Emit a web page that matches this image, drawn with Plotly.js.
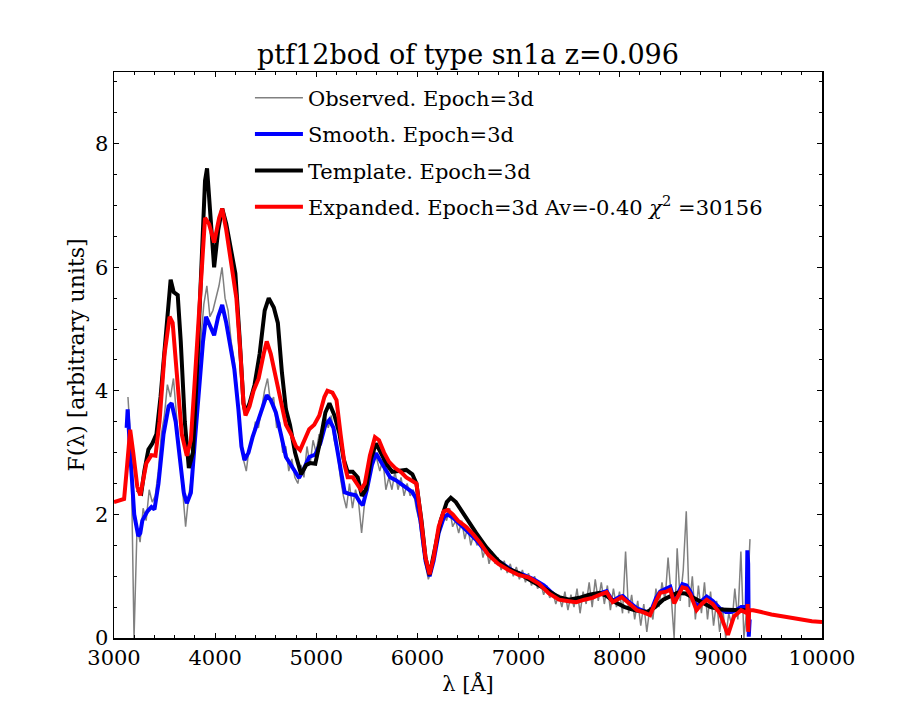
<!DOCTYPE html>
<html>
<head>
<meta charset="utf-8">
<script src="https://cdn.plot.ly/plotly-3.0.1.min.js"></script>
<style>
  body { margin: 0; background: #fff; }
  #chart { width: 913px; height: 711px; }
</style>
</head>
<body>
<div id="chart"></div>
<script>
// observed spectrum, regular grid starting at 3138 A, step 30 A
var obsStart = 3138;
var obsStep = 30;
var obsFlux = [
  3.9, 3.1, 0.0, 1.8, 1.55, 2.1, 1.9, 2.4, 2.2, 2.3,
  2.7, 3.3, 3.6, 4.1, 3.9, 4.2, 3.6, 3.0, 2.3, 1.8,
  2.3, 2.6, 3.4, 4.3, 4.8, 5.4, 5.7, 5.2, 5.3, 5.5,
  5.7, 6.0, 5.5, 5.3, 4.8, 4.5, 4.0, 3.3, 2.9, 2.7,
  3.1, 3.2, 3.5, 3.4, 3.7, 4.0, 4.2, 3.8, 3.9, 3.4,
  3.5, 3.0, 3.1, 2.7, 2.9, 2.6, 2.5, 2.8, 2.6, 3.1,
  2.8, 3.2, 3.0, 3.3, 3.2, 3.6, 3.4, 3.6, 3.2, 3.0,
  2.6, 2.3, 2.1, 2.5, 2.1, 2.4, 2.2, 1.7, 2.2, 2.6,
  2.9, 3.1, 2.9, 2.7, 2.9, 2.4, 2.6, 2.4, 2.7, 2.4,
  2.6, 2.3, 2.5, 2.3, 2.4, 2.1, 1.9, 1.5, 1.2, 0.95,
  1.1, 1.4, 1.7, 1.9, 2.0, 1.9, 2.1, 1.8, 1.9, 1.7,
  1.9, 1.6, 1.8, 1.5, 1.7, 1.5, 1.6, 1.3, 1.5, 1.2,
  1.4, 1.2, 1.3, 1.1, 1.25, 1.05, 1.2, 1.0, 1.15, 0.95,
  1.1, 0.9, 1.05, 0.85, 1.0, 0.8, 0.9, 0.7, 0.85, 0.65,
  0.75, 0.55, 0.7, 0.5, 0.75, 0.45, 0.7, 0.5, 0.8, 0.4,
  0.75, 0.55, 0.9, 0.5, 0.95, 0.6, 0.9, 0.55, 0.85, 0.45,
  0.8, 0.5, 0.75, 0.4, 1.4, 0.4, 0.7, 0.3, 0.6, 0.2,
  0.55, 0.1, 0.5, 0.3, 0.8, 0.5, 0.9, 0.6, 1.3, 0.7,
  0.0, 1.45, 0.6, 1.1, 2.05, 0.5, 1.0, 0.3, 0.85, 0.4,
  0.9, 0.3, 0.75, 0.2, 0.6, 0.1, 0.5, 0.0, 0.4, 0.2,
  0.8, 0.3, 1.4, 0.0, 0.5, 1.6
];

var smoothWave = [3125, 3135, 3160, 3200, 3240, 3260, 3280, 3330, 3370, 3400, 3440, 3490, 3540, 3570, 3610, 3650, 3690, 3720, 3760, 3800,
  3840, 3880, 3910, 3950, 3990, 4030, 4070, 4110, 4150, 4190, 4230, 4260, 4290, 4330, 4370, 4420, 4470, 4510, 4550, 4600,
  4650, 4700, 4750, 4800, 4830, 4880, 4930, 4990, 5040, 5090, 5130, 5170, 5210, 5250, 5280, 5330, 5390, 5430, 5460, 5500,
  5550, 5590, 5640, 5690, 5730, 5790, 5850, 5890, 5950, 5990, 6030, 6080, 6120, 6160, 6210, 6260, 6300, 6350, 6420, 6500,
  6580, 6650, 6750, 6850, 6950, 7050, 7150, 7250, 7350, 7420, 7500, 7580, 7650, 7730, 7800, 7870, 7930, 7990, 8030, 8080,
  8170, 8230, 8300, 8360, 8400, 8460, 8500, 8540, 8580, 8620, 8660, 8700, 8760, 8810, 8860, 8920, 8990, 9050, 9100, 9150,
  9200, 9240, 9255, 9262, 9270, 9276, 9285];
var smoothFlux = [3.4, 3.7, 3.0, 2.0, 1.65, 1.7, 1.9, 2.05, 2.12, 2.08, 2.5, 3.3, 3.75, 3.8, 3.5, 2.9, 2.35, 2.18, 2.35, 3.2,
  4.1, 4.8, 5.2, 5.05, 4.9, 5.2, 5.39, 5.1, 4.7, 4.35, 3.7, 3.1, 2.88, 3.0, 3.25, 3.5, 3.75, 3.93, 3.85, 3.65,
  3.3, 2.93, 2.8, 2.65, 2.59, 2.75, 2.93, 2.97, 3.15, 3.45, 3.53, 3.4, 3.0, 2.6, 2.36, 2.33, 2.31, 2.2, 2.15, 2.4,
  2.8, 2.99, 2.85, 2.7, 2.6, 2.55, 2.48, 2.44, 2.36, 2.25, 1.9, 1.25, 1.0, 1.25, 1.7, 1.95, 2.0, 1.95, 1.85, 1.72,
  1.59, 1.45, 1.3, 1.18, 1.08, 1.02, 0.95, 0.85, 0.7, 0.63, 0.62, 0.6, 0.64, 0.68, 0.72, 0.76, 0.6, 0.66, 0.68, 0.6,
  0.48, 0.44, 0.4, 0.65, 0.75, 0.8, 0.83, 0.6, 0.75, 0.87, 0.85, 0.75, 0.5, 0.6, 0.67, 0.6, 0.48, 0.42, 0.42, 0.45,
  0.5, 0.5, 0.5, 1.42, 1.2, 0.02, 0.3];

var templateWave = [3230, 3270, 3300, 3340, 3380, 3420, 3460, 3510, 3560, 3590, 3630, 3660, 3700, 3740, 3780, 3820, 3860, 3900, 3920, 3950,
  3990, 4030, 4070, 4110, 4160, 4200, 4240, 4280, 4300, 4340, 4390, 4440, 4490, 4530, 4580, 4620, 4660, 4700, 4740, 4790,
  4850, 4900, 4940, 4990, 5040, 5090, 5130, 5180, 5230, 5270, 5310, 5360, 5410, 5450, 5490, 5540, 5590, 5640, 5700, 5750,
  5810, 5890, 5950, 5990, 6040, 6080, 6120, 6170, 6230, 6290, 6330, 6380, 6440, 6490, 6580, 6680, 6800, 6900, 7000, 7100,
  7200, 7300, 7400, 7500, 7600, 7700, 7800, 7870, 7950, 8050, 8150, 8270, 8350, 8430, 8500, 8570, 8650, 8720, 8800, 8900,
  9000, 9100, 9200, 9280];
var templateFlux = [2.4, 2.35, 2.7, 3.05, 3.15, 3.3, 3.9, 4.9, 5.8, 5.6, 5.55, 4.8, 3.5, 2.75, 3.0, 4.3, 6.0, 7.4, 7.6, 6.8,
  6.0, 6.6, 6.95, 6.7, 6.3, 5.9, 4.9, 3.8, 3.65, 3.8, 4.1, 4.6, 5.3, 5.5, 5.35, 5.1, 4.3, 3.7, 3.45, 3.0,
  2.65, 2.8, 2.83, 2.82, 3.2, 3.65, 3.8, 3.6, 3.3, 2.9, 2.69, 2.69, 2.6, 2.3, 2.4, 2.9, 3.15, 3.0, 2.8, 2.69,
  2.7, 2.72, 2.65, 2.5, 1.9, 1.3, 1.02, 1.4, 1.9, 2.2, 2.27, 2.2, 2.05, 1.9, 1.7, 1.47, 1.25, 1.12, 1.05, 0.95,
  0.85, 0.75, 0.66, 0.62, 0.65, 0.7, 0.73, 0.68, 0.58, 0.5, 0.45, 0.42, 0.5, 0.62, 0.68, 0.73, 0.72, 0.66, 0.58, 0.5,
  0.46, 0.45, 0.45, 0.45];

var expandedWave = [3000, 3050, 3100, 3130, 3160, 3190, 3230, 3260, 3290, 3320, 3370, 3410, 3450, 3500, 3550, 3580, 3620, 3670, 3720, 3760,
  3800, 3850, 3900, 3940, 3990, 4040, 4070, 4110, 4160, 4210, 4250, 4280, 4300, 4340, 4380, 4430, 4480, 4510, 4550, 4600,
  4650, 4700, 4750, 4800, 4840, 4880, 4930, 4980, 5030, 5080, 5110, 5160, 5200, 5240, 5280, 5310, 5360, 5400, 5440, 5480,
  5530, 5580, 5620, 5670, 5720, 5780, 5840, 5890, 5950, 5990, 6030, 6080, 6120, 6160, 6210, 6260, 6300, 6350, 6400, 6480,
  6550, 6620, 6700, 6800, 6900, 7000, 7100, 7200, 7300, 7400, 7480, 7570, 7650, 7730, 7800, 7870, 7930, 7980, 8020, 8080,
  8170, 8230, 8300, 8360, 8400, 8460, 8500, 8540, 8580, 8620, 8660, 8700, 8760, 8810, 8860, 8920, 8990, 9030, 9070, 9100,
  9130, 9200, 9260, 9265, 9270, 9280, 9320, 9400, 9500, 9650, 9800, 9900, 10000];
var expandedFlux = [2.2, 2.22, 2.25, 2.8, 3.37, 3.0, 2.45, 2.31, 2.6, 2.83, 2.96, 2.95, 3.5, 4.6, 5.2, 5.1, 4.3, 3.3, 2.95, 3.2,
  4.2, 5.6, 6.8, 6.7, 6.4, 6.8, 6.95, 6.6, 6.0, 5.5, 4.6, 3.8, 3.6, 3.75, 4.0, 4.2, 4.6, 4.8, 4.6, 4.2,
  3.8, 3.45, 3.3, 3.1, 3.04, 3.2, 3.38, 3.45, 3.6, 3.9, 4.0, 3.97, 3.85, 3.3, 2.8, 2.6, 2.6, 2.5, 2.4, 2.5,
  2.95, 3.25, 3.2, 3.0, 2.85, 2.75, 2.68, 2.6, 2.55, 2.5, 2.0, 1.3, 1.03, 1.3, 1.8, 2.05, 2.07, 2.0, 1.9, 1.8,
  1.68, 1.54, 1.35, 1.2, 1.1, 1.02, 0.98, 0.88, 0.72, 0.62, 0.6, 0.58, 0.62, 0.65, 0.7, 0.74, 0.58, 0.62, 0.66, 0.58,
  0.45, 0.42, 0.37, 0.6, 0.73, 0.75, 0.78, 0.56, 0.7, 0.82, 0.8, 0.7, 0.45, 0.55, 0.62, 0.55, 0.4, 0.2, 0.05, 0.2,
  0.35, 0.45, 0.4, 0.55, 0.1, 0.45, 0.45, 0.42, 0.38, 0.34, 0.3, 0.27, 0.26];

var xTicks = [3000, 4000, 5000, 6000, 7000, 8000, 9000, 10000];
var xTickText = ['3000', '4000', '5000', '6000', '7000', '8000', '9000', '10000'];
var yTicks = [0, 2, 4, 6, 8];

var epoch = '3d';
var av = '-0.40';
var chi2 = '30156';

var serif = 'DejaVu Serif, serif';

var traces = [
  {
    x0: obsStart, dx: obsStep, y: obsFlux,
    type: 'scatter', mode: 'lines',
    name: 'Observed. Epoch=' + epoch,
    legendgroup: 'a',
    line: { color: '#808080', width: 1.5 }
  },
  {
    x: smoothWave, y: smoothFlux,
    type: 'scatter', mode: 'lines',
    name: 'Smooth. Epoch=' + epoch,
    legendgroup: 'b',
    line: { color: '#0000ff', width: 4 }
  },
  {
    x: templateWave, y: templateFlux,
    type: 'scatter', mode: 'lines',
    name: 'Template. Epoch=' + epoch,
    legendgroup: 'c',
    line: { color: '#000000', width: 4 }
  },
  {
    x: expandedWave, y: expandedFlux,
    type: 'scatter', mode: 'lines',
    name: 'Expanded. Epoch=' + epoch + ' Av=' + av + ' <i>\u03c7</i><sup>2</sup> =' + chi2,
    legendgroup: 'd',
    line: { color: '#ff0000', width: 4 }
  }
];

var axisCommon = {
  showgrid: false,
  zeroline: false,
  showline: true,
  linecolor: '#000',
  linewidth: 1.5,
  mirror: 'allticks',
  ticks: 'inside',
  ticklen: 5,
  tickwidth: 1,
  tickcolor: '#000',
  tickfont: { family: serif, size: 21, color: '#000' }
};

var layout = {
  width: 913,
  height: 711,
  margin: { l: 114, r: 91, t: 72, b: 73 },
  paper_bgcolor: '#ffffff',
  plot_bgcolor: '#ffffff',
  font: { family: serif, color: '#000' },
  title: {
    text: 'ptf12bod of type sn1a z=0.096',
    font: { family: serif, size: 27, color: '#000' },
    x: 0.5, xref: 'paper', xanchor: 'center',
    y: 1, yref: 'paper', yanchor: 'bottom', pad: { b: 8 }
  },
  xaxis: Object.assign({}, axisCommon, {
    range: [3000, 10000],
    tickvals: xTicks,
    ticktext: xTickText,
    minor: { dtick: 200, ticks: 'inside', ticklen: 3, tickcolor: '#000' },
    title: { text: '\u03bb [\u00c5]', font: { family: serif, size: 21 }, standoff: 7 }
  }),
  yaxis: Object.assign({}, axisCommon, {
    range: [0, 9.16],
    tickvals: yTicks,
    minor: { dtick: 0.5, ticks: 'inside', ticklen: 3, tickcolor: '#000' },
    title: { text: 'F(\u03bb) [arbitrary units]', font: { family: serif, size: 22 }, standoff: 4 }
  }),
  showlegend: true,
  legend: {
    x: 0.192, y: 0.99, xanchor: 'left', yanchor: 'top',
    bgcolor: 'rgba(0,0,0,0)',
    borderwidth: 0,
    itemwidth: 48,
    tracegroupgap: 6,
    font: { family: serif, size: 21, color: '#000' }
  }
};

Plotly.newPlot('chart', traces, layout, { displayModeBar: false, staticPlot: true });
</script>
</body>
</html>
